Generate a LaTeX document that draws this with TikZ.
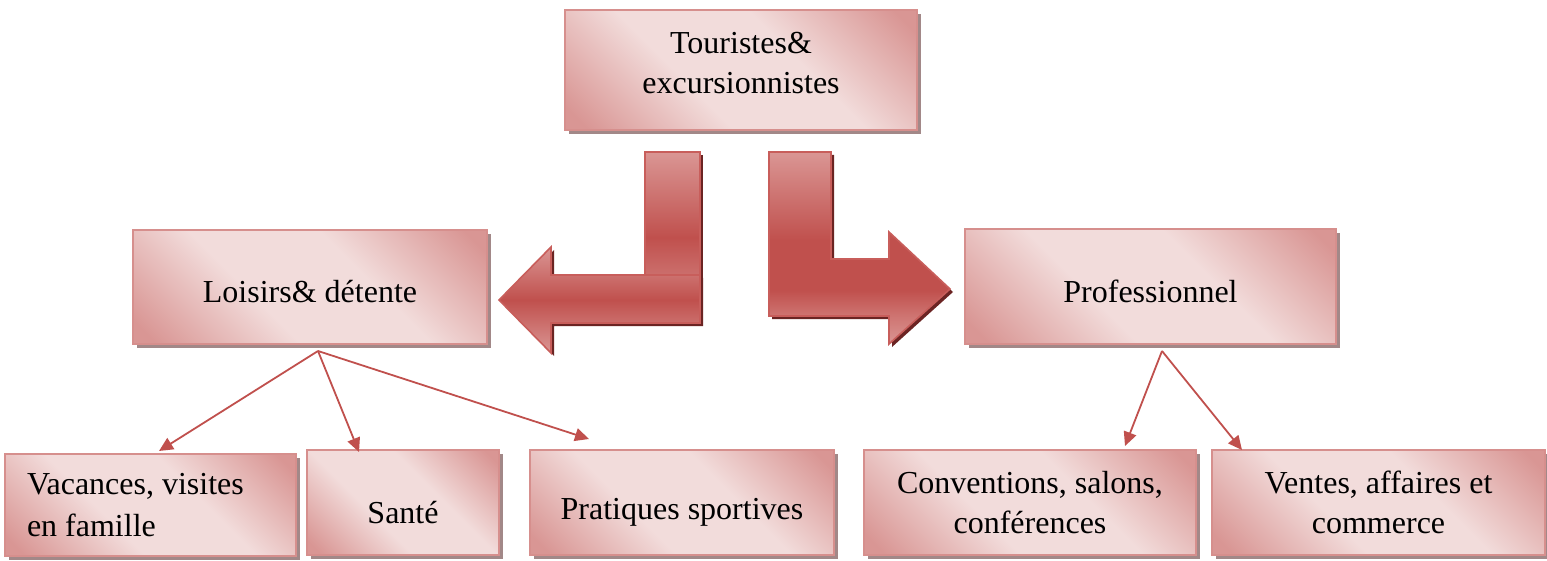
\documentclass[tikz,border=0pt]{standalone}
\usepackage{fontspec}
\setmainfont{Liberation Serif}
\usetikzlibrary{shadows,arrows.meta}
\definecolor{boxdk}{HTML}{D99694}
\definecolor{boxlt}{HTML}{F2DCDB}
\definecolor{boxbd}{HTML}{D68F8D}
\definecolor{boxsh}{HTML}{A28888}
\definecolor{ardk}{HTML}{C0504D}
\definecolor{arlt}{HTML}{DA9694}
\definecolor{armid}{HTML}{CF7673}
\definecolor{arbd}{HTML}{C85E5B}
\definecolor{arsh}{HTML}{6B2423}
\pgfdeclarehorizontalshading{boxshade}{100bp}{color(0bp)=(boxdk); color(18bp)=(boxdk); color(40bp)=(boxlt); color(60bp)=(boxlt); color(82bp)=(boxdk); color(100bp)=(boxdk)}
\pgfdeclareverticalshading{rarrowshade}{100bp}{color(0bp)=(arlt); color(25bp)=(arlt); color(32bp)=(armid); color(39bp)=(ardk); color(52bp)=(ardk); color(75bp)=(arlt); color(100bp)=(arlt)}
\tikzset{
  box/.style={draw=boxbd, line width=1pt, shading=boxshade, shading angle=45,
    general shadow={fill=boxsh, shadow xshift=2.2pt, shadow yshift=-2.2pt},
    inner sep=0pt, align=center, font=\fontsize{16pt}{20pt}\selectfont},
  arpiece/.style={draw=arbd, line width=0.8pt,
    general shadow={fill=arsh, shadow xshift=1.5pt, shadow yshift=-1.5pt}},
  conn/.style={draw=ardk, line width=0.9pt, -{Triangle[length=7pt,width=6.5pt]}}
}
\begin{document}
\begin{tikzpicture}[x=0.5pt, y=-0.5pt]
\useasboundingbox (0,0) rectangle (1547,561);

% big bent arrows
\path[arpiece, top color=arlt, bottom color=arlt, middle color=ardk]
  (645,152) rectangle (700,323);
\path[arpiece, top color=arlt, bottom color=arlt, middle color=ardk]
  (700,275) -- (551,275) -- (551,247) -- (499,300) -- (551,353) -- (551,323) -- (700,323) -- cycle;
\path[arpiece, shading=rarrowshade]
  (769,152) -- (831,152) -- (831,259) -- (889,259) -- (889,232) -- (950,289)
  -- (889,344) -- (889,316) -- (769,316) -- cycle;

% boxes
\node[box, minimum width=176pt, minimum height=60pt] (top) at (741,70)
  {\raisebox{2pt}[\height][\depth]{\begin{tabular}{@{}c@{}}Touristes\&\\excursionnistes\end{tabular}}};
\node[box, minimum width=177pt, minimum height=57pt] (lois) at (310,287)
  {\raisebox{-2.5pt}[\height][\depth]{Loisirs\& détente}};
\node[box, minimum width=185.5pt, minimum height=57.5pt] (prof) at (1150.5,286.5)
  {\raisebox{-2.5pt}[\height][\depth]{Professionnel}};
\node[box, minimum width=145.5pt, minimum height=51pt, align=flush left,
  text width=123.5pt, inner xsep=11pt, font=\fontsize{16pt}{21pt}\selectfont] (vac) at (150.5,505)
  {Vacances, visites\\en famille};
\node[box, minimum width=96pt, minimum height=52.5pt] (sante) at (403,502.5)
  {\raisebox{-5pt}[\height][\depth]{Santé}};
\node[box, minimum width=152pt, minimum height=52.5pt] (prat) at (682,502.5)
  {\raisebox{-5pt}[\height][\depth]{Pratiques sportives}};
\node[box, minimum width=166pt, minimum height=52.5pt] (conv) at (1030,502.5)
  {Conventions, salons,\\conférences};
\node[box, minimum width=166.5pt, minimum height=52.5pt] (vent) at (1378.5,502.5)
  {Ventes, affaires et\\commerce};

% connectors
\coordinate (lsrc) at ([xshift=4pt, yshift=-3pt]lois.south);
\coordinate (psrc) at ([xshift=5.75pt, yshift=-3pt]prof.south);
\draw[conn] (lsrc) -- ([xshift=77.5pt, yshift=1pt]vac.north west);
\draw[conn] (lsrc) -- ([xshift=26.5pt, yshift=-1.5pt]sante.north west);
\draw[conn] (lsrc) -- ([xshift=30pt, yshift=5pt]prat.north west);
\draw[conn] (psrc) -- ([xshift=131pt, yshift=1.5pt]conv.north west);
\draw[conn] (psrc) -- ([xshift=15.5pt, yshift=-0.5pt]vent.north west);
\end{tikzpicture}
\end{document}
